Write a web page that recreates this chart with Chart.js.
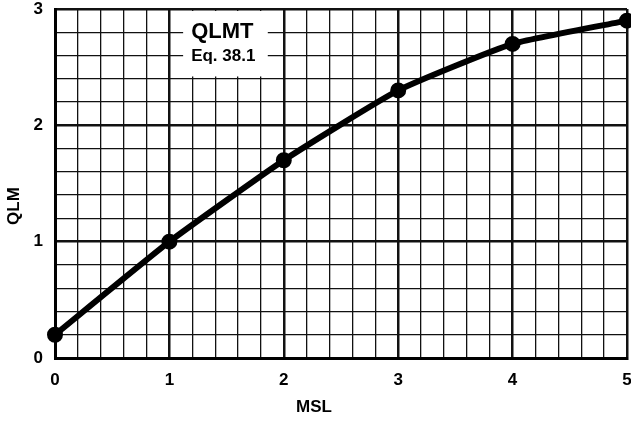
<!DOCTYPE html>
<html>
<head>
<meta charset="utf-8">
<script src="https://cdn.jsdelivr.net/npm/chart.js@4.4.0/dist/chart.umd.min.js"></script>
<style>
    html, body { margin: 0; padding: 0; background: #fff; }
    #wrap { width: 631px; height: 422px; }
</style>
</head>
<body>
<div id="wrap"><canvas id="chart" width="631" height="422"></canvas></div>
<script>
// values
const msl = [0, 1, 2, 3, 4, 5];
const qlm = [0.2, 1.0, 1.7, 2.3, 2.7, 2.9];
const xTickLabels = ['0', '1', '2', '3', '4', '5'];
const yTickLabels = ['0', '1', '2', '3'];
const noteLines = ['QLMT', 'Eq. 38.1'];

const FONT = '"Liberation Sans", Arial, sans-serif';

function isMajor(v) {
    return Math.abs(v - Math.round(v)) < 1e-6;
}

function noPadding(s) {
    s.paddingLeft = 0;
    s.paddingRight = 0;
    s.paddingTop = 0;
    s.paddingBottom = 0;
}

// white label box + axis titles
const notesPlugin = {
    id: 'notes',
    beforeDatasetsDraw(chart) {
        const ctx = chart.ctx;
        const x = chart.scales.x, y = chart.scales.y;
        const left = x.getPixelForValue(1.12), right = x.getPixelForValue(1.86);
        const top = y.getPixelForValue(3), bottom = y.getPixelForValue(2.42);
        ctx.save();
        ctx.fillStyle = '#fff';
        ctx.fillRect(left, top + 2, right - left, bottom - top - 2);
        ctx.fillStyle = '#000';
        ctx.textBaseline = 'middle';
        ctx.textAlign = 'left';
        ctx.font = 'bold 22px ' + FONT;
        ctx.fillText(noteLines[0], left + 8, y.getPixelForValue(2.80));
        ctx.font = 'bold 17px ' + FONT;
        ctx.fillText(noteLines[1], left + 8, y.getPixelForValue(2.59));
        ctx.restore();
    },
    afterDraw(chart) {
        const ctx = chart.ctx;
        ctx.save();
        ctx.fillStyle = '#000';
        ctx.font = 'bold 17px ' + FONT;
        ctx.textAlign = 'center';
        ctx.textBaseline = 'middle';
        ctx.fillText('MSL', 314, 407);
        ctx.translate(14, 206);
        ctx.rotate(-Math.PI / 2);
        ctx.fillText('QLM', 0, 0);
        ctx.restore();
    }
};

new Chart(document.getElementById('chart'), {
    type: 'line',
    data: {
        datasets: [{
            data: msl.map((m, i) => ({ x: m, y: qlm[i] })),
            borderColor: '#000',
            backgroundColor: '#000',
            borderWidth: 6,
            pointRadius: 5,
            pointBackgroundColor: '#000',
            tension: 0.15,
            clip: false
        }]
    },
    options: {
        responsive: false,
        animation: false,
        layout: { autoPadding: false, padding: { top: 9, right: 4, left: 0, bottom: 0 } },
        plugins: { legend: { display: false }, tooltip: { enabled: false } },
        scales: {
            x: {
                type: 'linear',
                min: 0, max: 5,
                ticks: {
                    stepSize: 0.2,
                    padding: 12,
                    color: '#000',
                    font: { family: FONT, size: 17, weight: 'bold' },
                    maxRotation: 0,
                    autoSkip: false,
                    callback: v => isMajor(v) ? xTickLabels[Math.round(v)] : ''
                },
                grid: {
                    drawTicks: false,
                    color: '#111',
                    lineWidth: c => (c.tick && isMajor(c.tick.value)) ? 2.5 : 1.3
                },
                border: { color: '#000', width: 3 },
                afterFit: s => { s.height = 64; noPadding(s); }
            },
            y: {
                type: 'linear',
                min: 0, max: 3,
                ticks: {
                    stepSize: 0.2,
                    padding: 12,
                    color: '#000',
                    font: { family: FONT, size: 17, weight: 'bold' },
                    autoSkip: false,
                    callback: v => isMajor(v) ? yTickLabels[Math.round(v)] : ''
                },
                grid: {
                    drawTicks: false,
                    color: '#111',
                    lineWidth: c => (c.tick && isMajor(c.tick.value)) ? 2.5 : 1.3
                },
                border: { color: '#000', width: 3 },
                afterFit: s => { s.width = 55; noPadding(s); }
            }
        }
    },
    plugins: [notesPlugin]
});
</script>
</body>
</html>
